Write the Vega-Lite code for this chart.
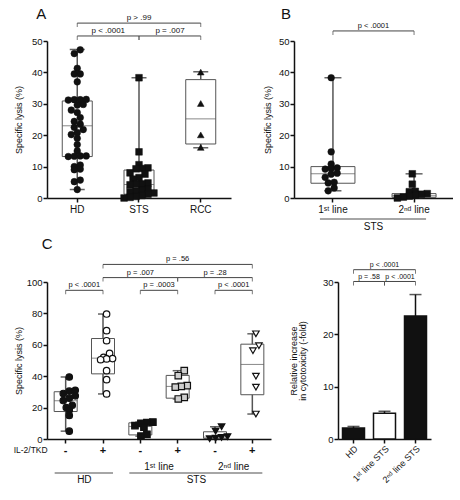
{
"$schema": "https://vega.github.io/schema/vega-lite/v6.json",
"padding": {"left": 13, "top": 7, "right": 0, "bottom": 0},
"config": {
  "font": "Liberation Sans",
  "view": {"stroke": null},
  "axis": {"grid": false, "domainColor": "#111", "tickColor": "#111", "labelColor": "#111", "titleColor": "#111", "domainWidth": 1.5, "tickWidth": 1.5, "tickSize": 4, "labelFontSize": 9.5, "titleFontSize": 9, "titleFontWeight": "normal", "labelPadding": 1, "labelOverlap": false, "labelFlush": false},
  "text": {"color": "#111"}
},
"resolve": {"scale": {"shape": "independent", "fill": "independent"}},
"datasets": {
  "boxA": [
    {"group": "HD", "min": 2.7, "q1": 13.2, "median": 23.0, "q3": 30.9, "max": 47.3},
    {"group": "STS", "min": 0, "q1": 1.2, "median": 4.3, "q3": 8.9, "max": 38.3},
    {"group": "RCC", "min": 16.0, "q1": 17.2, "median": 25.2, "q3": 37.7, "max": 40.2}
  ],
  "ptsA": [
    {"group": "HD", "value": 47.2}, {"group": "HD", "value": 46.0}, {"group": "HD", "value": 41.3}, {"group": "HD", "value": 39.5}, {"group": "HD", "value": 39.5},
    {"group": "HD", "value": 37.0}, {"group": "HD", "value": 31.4}, {"group": "HD", "value": 31.3}, {"group": "HD", "value": 31.2}, {"group": "HD", "value": 31.3},
    {"group": "HD", "value": 29.8}, {"group": "HD", "value": 29.6}, {"group": "HD", "value": 28.0}, {"group": "HD", "value": 27.2}, {"group": "HD", "value": 25.6},
    {"group": "HD", "value": 24.4}, {"group": "HD", "value": 23.5}, {"group": "HD", "value": 22.5}, {"group": "HD", "value": 21.8}, {"group": "HD", "value": 20.8},
    {"group": "HD", "value": 20.2}, {"group": "HD", "value": 19.0}, {"group": "HD", "value": 17.0}, {"group": "HD", "value": 15.0}, {"group": "HD", "value": 13.4},
    {"group": "HD", "value": 13.3}, {"group": "HD", "value": 13.2}, {"group": "HD", "value": 13.4}, {"group": "HD", "value": 10.5}, {"group": "HD", "value": 10.0},
    {"group": "HD", "value": 9.2}, {"group": "HD", "value": 9.0}, {"group": "HD", "value": 5.7}, {"group": "HD", "value": 5.2}, {"group": "HD", "value": 2.7},
    {"group": "STS", "value": 38.3}, {"group": "STS", "value": 14.7}, {"group": "STS", "value": 10.6}, {"group": "STS", "value": 9.6}, {"group": "STS", "value": 9.4},
    {"group": "STS", "value": 9.3}, {"group": "STS", "value": 8.0}, {"group": "STS", "value": 7.6}, {"group": "STS", "value": 6.5}, {"group": "STS", "value": 6.0},
    {"group": "STS", "value": 4.8}, {"group": "STS", "value": 4.5}, {"group": "STS", "value": 4.4}, {"group": "STS", "value": 4.2}, {"group": "STS", "value": 2.8},
    {"group": "STS", "value": 2.5}, {"group": "STS", "value": 2.2}, {"group": "STS", "value": 2.0}, {"group": "STS", "value": 1.6}, {"group": "STS", "value": 1.2},
    {"group": "STS", "value": 0.8}, {"group": "STS", "value": 0.5}, {"group": "STS", "value": 0.2}, {"group": "STS", "value": 0.0},
    {"group": "RCC", "value": 40.1}, {"group": "RCC", "value": 30.1}, {"group": "RCC", "value": 20.1}, {"group": "RCC", "value": 16.1}
  ],
  "brA": [
    {"from": "HD", "to": "RCC", "y": 55.7, "label": "p > .99", "mid": "STS", "between": false},
    {"from": "HD", "to": "STS", "y": 51.6, "label": "p < .0001", "mid": "HD", "between": true},
    {"from": "STS", "to": "RCC", "y": 51.6, "label": "p = .007", "mid": "STS", "between": true}
  ],
  "boxB": [
    {"group": "1ˢᵗ line", "min": 2.3, "q1": 4.7, "median": 7.7, "q3": 10.0, "max": 38.3},
    {"group": "2ⁿᵈ line", "min": 0, "q1": 0.2, "median": 0.7, "q3": 1.4, "max": 7.7}
  ],
  "ptsB": [
    {"group": "1ˢᵗ line", "value": 38.3}, {"group": "1ˢᵗ line", "value": 14.7}, {"group": "1ˢᵗ line", "value": 10.8}, {"group": "1ˢᵗ line", "value": 9.6}, {"group": "1ˢᵗ line", "value": 9.4},
    {"group": "1ˢᵗ line", "value": 9.2}, {"group": "1ˢᵗ line", "value": 7.9}, {"group": "1ˢᵗ line", "value": 7.6}, {"group": "1ˢᵗ line", "value": 6.6}, {"group": "1ˢᵗ line", "value": 5.0},
    {"group": "1ˢᵗ line", "value": 4.8}, {"group": "1ˢᵗ line", "value": 3.2}, {"group": "1ˢᵗ line", "value": 2.3},
    {"group": "2ⁿᵈ line", "value": 7.7}, {"group": "2ⁿᵈ line", "value": 4.4}, {"group": "2ⁿᵈ line", "value": 2.1}, {"group": "2ⁿᵈ line", "value": 2.0}, {"group": "2ⁿᵈ line", "value": 1.4},
    {"group": "2ⁿᵈ line", "value": 1.2}, {"group": "2ⁿᵈ line", "value": 0.9}, {"group": "2ⁿᵈ line", "value": 0.6}, {"group": "2ⁿᵈ line", "value": 0.3}, {"group": "2ⁿᵈ line", "value": 0.0}
  ],
  "brB": [
    {"from": "1ˢᵗ line", "to": "2ⁿᵈ line", "y": 53.2, "label": "p < .0001", "mid": "1ˢᵗ line", "between": true}
  ],
  "annB": [
    {"from": "1ˢᵗ line", "to": "2ⁿᵈ line", "y": -6.7, "ty": -9.3, "label": "STS"}
  ],
  "boxC": [
    {"group": "HD -", "min": 5.0, "q1": 17.5, "median": 24.4, "q3": 30.1, "max": 39.5},
    {"group": "HD +", "min": 28.7, "q1": 41.5, "median": 51.5, "q3": 64.0, "max": 79.6},
    {"group": "1st -", "min": 1.8, "q1": 2.6, "median": 8.0, "q3": 10.3, "max": 10.8},
    {"group": "1st +", "min": 25.5, "q1": 26.0, "median": 33.5, "q3": 40.5, "max": 43.5},
    {"group": "2nd -", "min": 0.2, "q1": 0.3, "median": 1.2, "q3": 4.6, "max": 7.8},
    {"group": "2nd +", "min": 15.9, "q1": 28.2, "median": 47.5, "q3": 60.4, "max": 67.0}
  ],
  "ptsC": [
    {"group": "HD -", "value": 39.5}, {"group": "HD -", "value": 31.0}, {"group": "HD -", "value": 30.5}, {"group": "HD -", "value": 29.0}, {"group": "HD -", "value": 27.5},
    {"group": "HD -", "value": 26.0}, {"group": "HD -", "value": 24.5}, {"group": "HD -", "value": 21.5}, {"group": "HD -", "value": 20.0}, {"group": "HD -", "value": 18.5},
    {"group": "HD -", "value": 15.0}, {"group": "HD -", "value": 5.0},
    {"group": "HD +", "value": 79.6}, {"group": "HD +", "value": 69.0}, {"group": "HD +", "value": 62.6}, {"group": "HD +", "value": 54.6}, {"group": "HD +", "value": 52.0},
    {"group": "HD +", "value": 51.2}, {"group": "HD +", "value": 51.0}, {"group": "HD +", "value": 50.5}, {"group": "HD +", "value": 43.5}, {"group": "HD +", "value": 37.8},
    {"group": "HD +", "value": 28.7},
    {"group": "1st -", "value": 10.8}, {"group": "1st -", "value": 10.5}, {"group": "1st -", "value": 10.0}, {"group": "1st -", "value": 8.5}, {"group": "1st -", "value": 7.5},
    {"group": "1st -", "value": 3.0}, {"group": "1st -", "value": 1.8},
    {"group": "1st +", "value": 43.5}, {"group": "1st +", "value": 40.3}, {"group": "1st +", "value": 34.0}, {"group": "1st +", "value": 33.5}, {"group": "1st +", "value": 33.0},
    {"group": "1st +", "value": 26.5}, {"group": "1st +", "value": 25.5},
    {"group": "2nd -", "value": 7.8}, {"group": "2nd -", "value": 5.0}, {"group": "2nd -", "value": 1.5}, {"group": "2nd -", "value": 1.0}, {"group": "2nd -", "value": 0.5},
    {"group": "2nd -", "value": 0.2},
    {"group": "2nd +", "value": 67.0}, {"group": "2nd +", "value": 59.4}, {"group": "2nd +", "value": 56.2}, {"group": "2nd +", "value": 40.0}, {"group": "2nd +", "value": 33.0},
    {"group": "2nd +", "value": 15.9}
  ],
  "brC": [
    {"from": "HD +", "to": "2nd +", "y": 111.2, "label": "p = .56", "mid": "1st +", "between": false},
    {"from": "HD +", "to": "1st +", "y": 102.8, "label": "p = .007", "mid": "1st -", "between": false},
    {"from": "1st +", "to": "2nd +", "y": 102.8, "label": "p = .28", "mid": "2nd -", "between": false},
    {"from": "HD -", "to": "HD +", "y": 94.7, "label": "p < .0001", "mid": "HD -", "between": true},
    {"from": "1st -", "to": "1st +", "y": 94.7, "label": "p = .0003", "mid": "1st -", "between": true},
    {"from": "2nd -", "to": "2nd +", "y": 94.7, "label": "p < .0001", "mid": "2nd -", "between": true}
  ],
  "annC": [
    {"at": "1st -", "y": -17.8, "label": "1ˢᵗ line"},
    {"at": "2nd -", "y": -17.8, "label": "2ⁿᵈ line"},
    {"at": "HD -", "y": -26.2, "label": "HD"},
    {"at": "1st +", "y": -26.2, "label": "STS"}
  ],
  "grpC": [
    {"from": "HD -", "to": "HD +", "y": -21.6},
    {"from": "1st -", "to": "2nd +", "y": -21.6}
  ],
  "ilC": [
    {"at": "HD -", "y": -7.0, "label": "IL-2/TKD"}
  ],
  "barsD": [
    {"group": "HD", "value": 2.1, "upper": 2.4},
    {"group": "1ˢᵗ line STS", "value": 4.9, "upper": 5.3},
    {"group": "2ⁿᵈ line STS", "value": 23.5, "upper": 27.6}
  ],
  "brD": [
    {"from": "HD", "to": "2ⁿᵈ line STS", "y": 32.35, "label": "p < .0001", "mid": "1ˢᵗ line STS", "between": false},
    {"from": "HD", "to": "1ˢᵗ line STS", "y": 30.1, "label": "p = .58", "mid": "HD", "between": true},
    {"from": "1ˢᵗ line STS", "to": "2ⁿᵈ line STS", "y": 30.1, "label": "p < .0001", "mid": "1ˢᵗ line STS", "between": true}
  ],
  "letA": [{"letter": "A", "at": "HD", "y": 57}],
  "letB": [{"letter": "B", "at": "1ˢᵗ line", "y": 57}],
  "letC": [{"letter": "C", "at": "HD -", "y": 121}]
},
"spacing": 4,
"vconcat": [
  {
    "bounds": "flush",
    "spacing": 63,
    "hconcat": [
      {
        "width": 184, "height": 157,
        "layer": [
          {
            "data": {"name": "boxA"},
            "mark": {"type": "rule", "color": "#555", "strokeWidth": 1.5},
            "encoding": {
              "x": {"field": "group", "type": "nominal", "title": null, "scale": {"type": "band", "domain": ["HD", "STS", "RCC"], "paddingInner": 0.4, "paddingOuter": 0.19}, "axis": {"title": null, "labelAngle": 0, "labelFontSize": 10, "labelPadding": 2}},
              "y": {"field": "min", "type": "quantitative", "title": "Specific lysis (%)", "scale": {"domain": [0, 50], "nice": false, "zero": false}, "axis": {"title": "Specific lysis (%)", "values": [0, 10, 20, 30, 40, 50], "tickCount": 10, "titlePadding": 8}},
              "y2": {"field": "max"}
            }
          },
          {
            "data": {"name": "boxA"},
            "mark": {"type": "tick", "orient": "horizontal", "size": 15, "thickness": 1.5, "color": "#222"},
            "encoding": {"x": {"field": "group", "type": "nominal"}, "y": {"field": "max", "type": "quantitative"}}
          },
          {
            "data": {"name": "boxA"},
            "mark": {"type": "tick", "orient": "horizontal", "size": 15, "thickness": 1.5, "color": "#222"},
            "encoding": {"x": {"field": "group", "type": "nominal"}, "y": {"field": "min", "type": "quantitative"}}
          },
          {
            "data": {"name": "boxA"},
            "mark": {"type": "bar", "width": 30, "fill": "white", "stroke": "#555", "strokeWidth": 1},
            "encoding": {"x": {"field": "group", "type": "nominal"}, "y": {"field": "q1", "type": "quantitative"}, "y2": {"field": "q3"}}
          },
          {
            "data": {"name": "boxA"},
            "mark": {"type": "tick", "orient": "horizontal", "size": 30, "thickness": 1, "color": "#555"},
            "encoding": {"x": {"field": "group", "type": "nominal"}, "y": {"field": "median", "type": "quantitative"}}
          },
          {
            "data": {"name": "ptsA"},
            "transform": [
              {"bin": {"step": 2}, "field": "value", "as": "vb"},
              {"window": [{"op": "row_number", "as": "rn"}, {"op": "count", "as": "cnt"}], "groupby": ["group", "vb"], "sort": [{"field": "value"}], "frame": [null, null]},
              {"calculate": "datum.rn - (datum.cnt + 1) / 2", "as": "off"}
            ],
            "mark": {"type": "point", "filled": true, "size": 45, "stroke": "#111", "strokeWidth": 0.5, "opacity": 1},
            "encoding": {
              "x": {"field": "group", "type": "nominal"},
              "xOffset": {"field": "off", "type": "quantitative", "scale": {"domain": [-2.85, 2.85]}},
              "y": {"field": "value", "type": "quantitative"},
              "shape": {"field": "group", "type": "nominal", "scale": {"domain": ["HD", "STS", "RCC"], "range": ["circle", "square", "triangle-up"]}, "legend": null},
              "fill": {"value": "#111"}
            }
          },
          {
            "data": {"name": "brA"},
            "mark": {"type": "rule", "color": "#444", "strokeWidth": 1},
            "encoding": {"x": {"field": "from", "type": "nominal"}, "x2": {"field": "to"}, "y": {"field": "y", "type": "quantitative"}}
          },
          {
            "data": {"name": "brA"},
            "mark": {"type": "tick", "orient": "vertical", "size": 4, "thickness": 1, "yOffset": 2, "color": "#444"},
            "encoding": {"x": {"field": "from", "type": "nominal"}, "y": {"field": "y", "type": "quantitative"}}
          },
          {
            "data": {"name": "brA"},
            "mark": {"type": "tick", "orient": "vertical", "size": 4, "thickness": 1, "yOffset": 2, "color": "#444"},
            "encoding": {"x": {"field": "to", "type": "nominal"}, "y": {"field": "y", "type": "quantitative"}}
          },
          {
            "data": {"name": "brA"},
            "transform": [{"filter": "datum.between"}],
            "mark": {"type": "text", "dx": 31, "dy": -3, "baseline": "alphabetic", "fontSize": 8},
            "encoding": {"x": {"field": "mid", "type": "nominal"}, "y": {"field": "y", "type": "quantitative"}, "text": {"field": "label"}}
          },
          {
            "data": {"name": "brA"},
            "transform": [{"filter": "!datum.between"}],
            "mark": {"type": "text", "dy": -3, "baseline": "alphabetic", "fontSize": 8},
            "encoding": {"x": {"field": "mid", "type": "nominal"}, "y": {"field": "y", "type": "quantitative"}, "text": {"field": "label"}}
          },
          {
            "data": {"name": "letA"},
            "mark": {"type": "text", "align": "left", "baseline": "alphabetic", "fontSize": 15, "dx": -41},
            "encoding": {"x": {"field": "at", "type": "nominal"}, "y": {"field": "y", "type": "quantitative"}, "text": {"field": "letter"}}
          }
        ]
      },
      {
        "width": 159, "height": 157,
        "layer": [
          {
            "data": {"name": "boxB"},
            "mark": {"type": "rule", "color": "#555", "strokeWidth": 1.5},
            "encoding": {
              "x": {"field": "group", "type": "nominal", "title": null, "scale": {"type": "band", "domain": ["1ˢᵗ line", "2ⁿᵈ line"], "paddingInner": 0.5, "paddingOuter": 0.23}, "axis": {"title": null, "labelAngle": 0, "labelFontSize": 10, "labelPadding": 2}},
              "y": {"field": "min", "type": "quantitative", "title": "Specific lysis (%)", "scale": {"domain": [0, 50], "nice": false, "zero": false}, "axis": {"title": "Specific lysis (%)", "values": [0, 10, 20, 30, 40, 50], "tickCount": 10, "titlePadding": 6}},
              "y2": {"field": "max"}
            }
          },
          {
            "data": {"name": "boxB"},
            "mark": {"type": "tick", "orient": "horizontal", "size": 17, "thickness": 1.5, "color": "#222"},
            "encoding": {"x": {"field": "group", "type": "nominal"}, "y": {"field": "max", "type": "quantitative"}}
          },
          {
            "data": {"name": "boxB"},
            "mark": {"type": "tick", "orient": "horizontal", "size": 17, "thickness": 1.5, "color": "#222"},
            "encoding": {"x": {"field": "group", "type": "nominal"}, "y": {"field": "min", "type": "quantitative"}}
          },
          {
            "data": {"name": "boxB"},
            "mark": {"type": "bar", "width": 44, "fill": "white", "stroke": "#555", "strokeWidth": 1},
            "encoding": {"x": {"field": "group", "type": "nominal"}, "y": {"field": "q1", "type": "quantitative"}, "y2": {"field": "q3"}}
          },
          {
            "data": {"name": "boxB"},
            "mark": {"type": "tick", "orient": "horizontal", "size": 44, "thickness": 1, "color": "#555"},
            "encoding": {"x": {"field": "group", "type": "nominal"}, "y": {"field": "median", "type": "quantitative"}}
          },
          {
            "data": {"name": "ptsB"},
            "transform": [
              {"bin": {"step": 2}, "field": "value", "as": "vb"},
              {"window": [{"op": "row_number", "as": "rn"}, {"op": "count", "as": "cnt"}], "groupby": ["group", "vb"], "sort": [{"field": "value"}], "frame": [null, null]},
              {"calculate": "datum.rn - (datum.cnt + 1) / 2", "as": "off"}
            ],
            "mark": {"type": "point", "filled": true, "size": 45, "stroke": "#111", "strokeWidth": 0.5, "opacity": 1},
            "encoding": {
              "x": {"field": "group", "type": "nominal"},
              "xOffset": {"field": "off", "type": "quantitative", "scale": {"domain": [-3.1, 3.1]}},
              "y": {"field": "value", "type": "quantitative"},
              "shape": {"field": "group", "type": "nominal", "scale": {"domain": ["1ˢᵗ line", "2ⁿᵈ line"], "range": ["square", "triangle-down"]}, "legend": null},
              "fill": {"value": "#111"}
            }
          },
          {
            "data": {"name": "brB"},
            "mark": {"type": "rule", "color": "#444", "strokeWidth": 1},
            "encoding": {"x": {"field": "from", "type": "nominal"}, "x2": {"field": "to"}, "y": {"field": "y", "type": "quantitative"}}
          },
          {
            "data": {"name": "brB"},
            "mark": {"type": "tick", "orient": "vertical", "size": 4, "thickness": 1, "yOffset": 2, "color": "#444"},
            "encoding": {"x": {"field": "from", "type": "nominal"}, "y": {"field": "y", "type": "quantitative"}}
          },
          {
            "data": {"name": "brB"},
            "mark": {"type": "tick", "orient": "vertical", "size": 4, "thickness": 1, "yOffset": 2, "color": "#444"},
            "encoding": {"x": {"field": "to", "type": "nominal"}, "y": {"field": "y", "type": "quantitative"}}
          },
          {
            "data": {"name": "brB"},
            "mark": {"type": "text", "dx": 40.5, "dy": -3, "baseline": "alphabetic", "fontSize": 7.5},
            "encoding": {"x": {"field": "mid", "type": "nominal"}, "y": {"field": "y", "type": "quantitative"}, "text": {"field": "label"}}
          },
          {
            "data": {"name": "annB"},
            "mark": {"type": "rule", "color": "#888", "strokeWidth": 1.5, "xOffset": -13, "x2Offset": 12},
            "encoding": {"x": {"field": "from", "type": "nominal"}, "x2": {"field": "to"}, "y": {"field": "y", "type": "quantitative"}}
          },
          {
            "data": {"name": "annB"},
            "mark": {"type": "text", "dx": 40.5, "baseline": "middle", "fontSize": 10},
            "encoding": {"x": {"field": "from", "type": "nominal"}, "y": {"field": "ty", "type": "quantitative"}, "text": {"field": "label"}}
          },
          {
            "data": {"name": "letB"},
            "mark": {"type": "text", "align": "left", "baseline": "alphabetic", "fontSize": 15, "dx": -52},
            "encoding": {"x": {"field": "at", "type": "nominal"}, "y": {"field": "y", "type": "quantitative"}, "text": {"field": "letter"}}
          }
        ]
      }
    ]
  },
  {
    "bounds": "flush",
    "spacing": 67,
    "hconcat": [
      {
        "width": 224, "height": 157,
        "layer": [
          {
            "data": {"name": "boxC"},
            "mark": {"type": "rule", "color": "#555", "strokeWidth": 1.5},
            "encoding": {
              "x": {"field": "group", "type": "nominal", "title": null, "scale": {"type": "band", "domain": ["HD -", "HD +", "1st -", "1st +", "2nd -", "2nd +"], "paddingInner": 0.2, "paddingOuter": 0.1}, "axis": {"title": null, "labelAngle": 0, "labelFontSize": 11, "labelFontWeight": "bold", "labelPadding": 1, "tickSize": 4, "labelExpr": "slice(datum.label, -1)"}},
              "y": {"field": "min", "type": "quantitative", "title": "Specific lysis (%)", "scale": {"domain": [0, 100], "nice": false, "zero": false}, "axis": {"title": "Specific lysis (%)", "values": [0, 20, 40, 60, 80, 100], "tickCount": 10, "titlePadding": 3}},
              "y2": {"field": "max"}
            }
          },
          {
            "data": {"name": "boxC"},
            "mark": {"type": "tick", "orient": "horizontal", "size": 10, "thickness": 1.5, "color": "#222"},
            "encoding": {"x": {"field": "group", "type": "nominal"}, "y": {"field": "max", "type": "quantitative"}}
          },
          {
            "data": {"name": "boxC"},
            "mark": {"type": "tick", "orient": "horizontal", "size": 10, "thickness": 1.5, "color": "#222"},
            "encoding": {"x": {"field": "group", "type": "nominal"}, "y": {"field": "min", "type": "quantitative"}}
          },
          {
            "data": {"name": "boxC"},
            "mark": {"type": "bar", "width": 23, "fill": "white", "stroke": "#555", "strokeWidth": 1},
            "encoding": {"x": {"field": "group", "type": "nominal"}, "y": {"field": "q1", "type": "quantitative"}, "y2": {"field": "q3"}}
          },
          {
            "data": {"name": "boxC"},
            "mark": {"type": "tick", "orient": "horizontal", "size": 23, "thickness": 1, "color": "#555"},
            "encoding": {"x": {"field": "group", "type": "nominal"}, "y": {"field": "median", "type": "quantitative"}}
          },
          {
            "data": {"name": "ptsC"},
            "transform": [
              {"bin": {"step": 4}, "field": "value", "as": "vb"},
              {"window": [{"op": "row_number", "as": "rn"}, {"op": "count", "as": "cnt"}], "groupby": ["group", "vb"], "sort": [{"field": "value"}], "frame": [null, null]},
              {"calculate": "datum.rn - (datum.cnt + 1) / 2", "as": "off"}
            ],
            "mark": {"type": "point", "filled": true, "size": 42, "stroke": "#111", "strokeWidth": 1.2, "opacity": 1},
            "encoding": {
              "x": {"field": "group", "type": "nominal"},
              "xOffset": {"field": "off", "type": "quantitative", "scale": {"domain": [-2.3, 2.3]}},
              "y": {"field": "value", "type": "quantitative"},
              "shape": {"field": "group", "type": "nominal", "scale": {"domain": ["HD -", "HD +", "1st -", "1st +", "2nd -", "2nd +"], "range": ["circle", "circle", "square", "square", "triangle-down", "triangle-down"]}, "legend": null},
              "fill": {"field": "group", "type": "nominal", "scale": {"domain": ["HD -", "HD +", "1st -", "1st +", "2nd -", "2nd +"], "range": ["#111111", "#ffffff", "#111111", "#cfcfcf", "#111111", "#ffffff"]}, "legend": null}
            }
          },
          {
            "data": {"name": "brC"},
            "mark": {"type": "rule", "color": "#444", "strokeWidth": 1},
            "encoding": {"x": {"field": "from", "type": "nominal"}, "x2": {"field": "to"}, "y": {"field": "y", "type": "quantitative"}}
          },
          {
            "data": {"name": "brC"},
            "mark": {"type": "tick", "orient": "vertical", "size": 4, "thickness": 1, "yOffset": 2, "color": "#444"},
            "encoding": {"x": {"field": "from", "type": "nominal"}, "y": {"field": "y", "type": "quantitative"}}
          },
          {
            "data": {"name": "brC"},
            "mark": {"type": "tick", "orient": "vertical", "size": 4, "thickness": 1, "yOffset": 2, "color": "#444"},
            "encoding": {"x": {"field": "to", "type": "nominal"}, "y": {"field": "y", "type": "quantitative"}}
          },
          {
            "data": {"name": "brC"},
            "transform": [{"filter": "datum.between"}],
            "mark": {"type": "text", "dx": 18.7, "dy": -3, "baseline": "alphabetic", "fontSize": 7.5},
            "encoding": {"x": {"field": "mid", "type": "nominal"}, "y": {"field": "y", "type": "quantitative"}, "text": {"field": "label"}}
          },
          {
            "data": {"name": "brC"},
            "transform": [{"filter": "!datum.between"}],
            "mark": {"type": "text", "dy": -3, "baseline": "alphabetic", "fontSize": 7.5},
            "encoding": {"x": {"field": "mid", "type": "nominal"}, "y": {"field": "y", "type": "quantitative"}, "text": {"field": "label"}}
          },
          {
            "data": {"name": "grpC"},
            "mark": {"type": "rule", "color": "#888", "strokeWidth": 1.5, "xOffset": -11, "x2Offset": 10},
            "encoding": {"x": {"field": "from", "type": "nominal"}, "x2": {"field": "to"}, "y": {"field": "y", "type": "quantitative"}}
          },
          {
            "data": {"name": "annC"},
            "mark": {"type": "text", "dx": 18.7, "baseline": "middle", "fontSize": 10},
            "encoding": {"x": {"field": "at", "type": "nominal"}, "y": {"field": "y", "type": "quantitative"}, "text": {"field": "label"}}
          },
          {
            "data": {"name": "ilC"},
            "mark": {"type": "text", "dx": -18, "align": "right", "baseline": "middle", "fontSize": 8.5},
            "encoding": {"x": {"field": "at", "type": "nominal"}, "y": {"field": "y", "type": "quantitative"}, "text": {"field": "label"}}
          },
          {
            "data": {"name": "letC"},
            "mark": {"type": "text", "align": "left", "baseline": "alphabetic", "fontSize": 15, "dx": -24},
            "encoding": {"x": {"field": "at", "type": "nominal"}, "y": {"field": "y", "type": "quantitative"}, "text": {"field": "letter"}}
          }
        ]
      },
      {
        "width": 93, "height": 157,
        "layer": [
          {
            "data": {"name": "barsD"},
            "mark": {"type": "bar", "width": 22, "stroke": "#111", "strokeWidth": 1.5},
            "encoding": {
              "x": {"field": "group", "type": "nominal", "title": null, "scale": {"type": "band", "domain": ["HD", "1ˢᵗ line STS", "2ⁿᵈ line STS"], "paddingInner": 0.3, "paddingOuter": 0.15}, "axis": {"title": null, "labelAngle": -45, "labelFontSize": 9}},
              "y": {"field": "value", "type": "quantitative", "title": ["Relative increase", "in cytotoxicity (-fold)"], "scale": {"domain": [0, 30], "nice": false, "zero": false}, "axis": {"title": ["Relative increase", "in cytotoxicity (-fold)"], "values": [0, 10, 20, 30], "tickCount": 10, "titlePadding": 15, "titleLineHeight": 9}},
              "fill": {"field": "group", "type": "nominal", "scale": {"domain": ["HD", "1ˢᵗ line STS", "2ⁿᵈ line STS"], "range": ["#ffffff", "#d6d6d6", "#555555"]}, "legend": null}
            }
          },
          {
            "data": {"name": "barsD"},
            "mark": {"type": "rule", "color": "#111", "strokeWidth": 1.5},
            "encoding": {"x": {"field": "group", "type": "nominal"}, "y": {"field": "value", "type": "quantitative"}, "y2": {"field": "upper"}}
          },
          {
            "data": {"name": "barsD"},
            "mark": {"type": "tick", "orient": "horizontal", "size": 12, "thickness": 1.5, "color": "#111"},
            "encoding": {"x": {"field": "group", "type": "nominal"}, "y": {"field": "upper", "type": "quantitative"}}
          },
          {
            "data": {"name": "brD"},
            "mark": {"type": "rule", "color": "#444", "strokeWidth": 1},
            "encoding": {"x": {"field": "from", "type": "nominal"}, "x2": {"field": "to"}, "y": {"field": "y", "type": "quantitative"}}
          },
          {
            "data": {"name": "brD"},
            "mark": {"type": "tick", "orient": "vertical", "size": 4, "thickness": 1, "yOffset": 2, "color": "#444"},
            "encoding": {"x": {"field": "from", "type": "nominal"}, "y": {"field": "y", "type": "quantitative"}}
          },
          {
            "data": {"name": "brD"},
            "mark": {"type": "tick", "orient": "vertical", "size": 4, "thickness": 1, "yOffset": 2, "color": "#444"},
            "encoding": {"x": {"field": "to", "type": "nominal"}, "y": {"field": "y", "type": "quantitative"}}
          },
          {
            "data": {"name": "brD"},
            "transform": [{"filter": "datum.between"}],
            "mark": {"type": "text", "dx": 15.5, "dy": -2.5, "baseline": "alphabetic", "fontSize": 7},
            "encoding": {"x": {"field": "mid", "type": "nominal"}, "y": {"field": "y", "type": "quantitative"}, "text": {"field": "label"}}
          },
          {
            "data": {"name": "brD"},
            "transform": [{"filter": "!datum.between"}],
            "mark": {"type": "text", "dy": -3, "baseline": "alphabetic", "fontSize": 7},
            "encoding": {"x": {"field": "mid", "type": "nominal"}, "y": {"field": "y", "type": "quantitative"}, "text": {"field": "label"}}
          }
        ]
      }
    ]
  }
]
}
